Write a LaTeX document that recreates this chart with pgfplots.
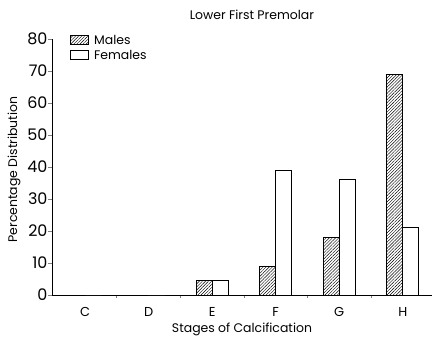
\documentclass[border=0pt]{standalone}
\usepackage{fontspec}
\setmainfont{Poppins}
\usepackage{pgfplots}
\pgfplotsset{compat=1.18}
\usetikzlibrary{patterns.meta}
\begin{document}
\begin{tikzpicture}
\begin{axis}[
  at={(0,0)}, anchor=south west,
  scale only axis,
  width=380bp, height=256bp,
  xmin=-0.52, xmax=5.46,
  ymin=0, ymax=80,
  axis x line*=bottom, axis y line*=left,
  axis line style={line width=0.9pt},
  ytick={0,10,...,80},
  xtick={0,1,2,3,4,5},
  xticklabels={C,D,E,F,G,H},
  minor xtick={0.5,1.5,2.5,3.5,4.5},
  major x tick style={draw=none},
  minor tick length=3bp,
  tick align=inside,
  major tick length=4bp,
  y tick style={xshift=-4bp, line width=0.7pt},
  minor x tick style={line width=0.7pt},
  /pgf/number format/assume math mode=true,
  tick label style={font=\fontsize{16}{18}\selectfont},
  xticklabel style={font=\fontsize{13}{15}\selectfont, yshift=-5bp},
  yticklabel style={xshift=-1bp},
  label style={font=\fontsize{12.5}{14}\selectfont},
  xlabel={Stages of Calcification},
  ylabel={Percentage Distribution},
  xlabel style={at={(axis description cs:0.5,-0.135)}, anchor=center},
  ylabel style={at={(axis description cs:-0.1,0.49)}, anchor=center},
  title={Lower First Premolar},
  title style={at={(axis description cs:0.526,1.072)}, anchor=center, font=\fontsize{12.5}{14}\selectfont},
  ybar=0pt, bar width=16bp,
  legend style={at={(axis description cs:0.04,1.03)}, anchor=north west, draw=none, fill=none, font=\fontsize{12.5}{14}\selectfont, row sep=0bp,
    /tikz/every odd column/.style={column sep=3bp}},
  legend cell align=left,
  legend image code/.code={\draw[#1, line width=0.8pt] (0bp,-4bp) rectangle (18bp,5bp);},
]
\addplot[draw=black, line width=0.9pt, pattern={Lines[distance=2.2pt, angle=45, line width=0.45pt]}] coordinates {(0,0) (1,0) (2,4.5) (3,9) (4,18) (5,69)};
\addplot[draw=black, line width=0.9pt, fill=white] coordinates {(0,0) (1,0) (2,4.5) (3,39) (4,36) (5,21)};
\legend{Males, Females}
\end{axis}
\pgfresetboundingbox
\path[use as bounding box] (-52bp,-46bp) rectangle (380bp,295bp);
\end{tikzpicture}
\end{document}
